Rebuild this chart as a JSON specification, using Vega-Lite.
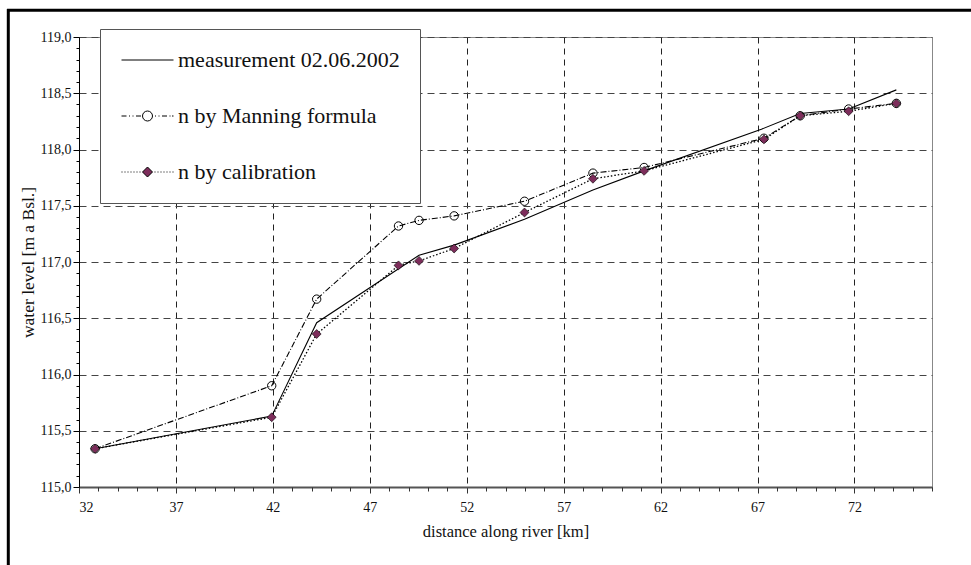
{
  "$schema": "https://vega.github.io/schema/vega-lite/v6.json",
  "width": 853,
  "height": 450,
  "autosize": {"type": "none"},
  "padding": {"left": 79, "top": 37, "right": 39, "bottom": 78},
  "background": "white",
  "config": {
    "font": "Liberation Serif",
    "view": {"stroke": "#888888", "strokeWidth": 1},
    "legend": {
      "title": null,
      "orient": "none",
      "legendX": 21,
      "legendY": -8,
      "padding": 20,
      "symbolSize": 400,
      "symbolOffset": 16.5,
      "symbolOpacity": 1,
      "symbolStrokeWidth": 1,
      "labelOffset": 19.5,
      "rowPadding": 34,
      "labelFont": "Liberation Serif",
      "labelFontSize": 22,
      "labelColor": "#111111",
      "labelLimit": 500,
      "strokeColor": "#555555",
      "fillColor": "white"
    }
  },
  "data": {
    "values": [
      {"series": "measurement 02.06.2002", "km": 32.83, "level": 115.34},
      {"series": "measurement 02.06.2002", "km": 41.94, "level": 115.63},
      {"series": "measurement 02.06.2002", "km": 44.26, "level": 116.46},
      {"series": "measurement 02.06.2002", "km": 49.54, "level": 117.06},
      {"series": "measurement 02.06.2002", "km": 51.35, "level": 117.15},
      {"series": "measurement 02.06.2002", "km": 54.98, "level": 117.38},
      {"series": "measurement 02.06.2002", "km": 58.51, "level": 117.64},
      {"series": "measurement 02.06.2002", "km": 61.15, "level": 117.81},
      {"series": "measurement 02.06.2002", "km": 67.2, "level": 118.18},
      {"series": "measurement 02.06.2002", "km": 69.2, "level": 118.32},
      {"series": "measurement 02.06.2002", "km": 71.7, "level": 118.36},
      {"series": "measurement 02.06.2002", "km": 74.16, "level": 118.53},
      {"series": "n by Manning formula", "km": 32.83, "level": 115.34},
      {"series": "n by Manning formula", "km": 41.94, "level": 115.9},
      {"series": "n by Manning formula", "km": 44.26, "level": 116.67},
      {"series": "n by Manning formula", "km": 48.48, "level": 117.32},
      {"series": "n by Manning formula", "km": 49.54, "level": 117.37},
      {"series": "n by Manning formula", "km": 51.35, "level": 117.41},
      {"series": "n by Manning formula", "km": 54.98, "level": 117.54},
      {"series": "n by Manning formula", "km": 58.51, "level": 117.79},
      {"series": "n by Manning formula", "km": 61.15, "level": 117.84},
      {"series": "n by Manning formula", "km": 67.33, "level": 118.1},
      {"series": "n by Manning formula", "km": 69.2, "level": 118.3},
      {"series": "n by Manning formula", "km": 71.7, "level": 118.36},
      {"series": "n by Manning formula", "km": 74.16, "level": 118.41},
      {"series": "n by calibration", "km": 32.83, "level": 115.34},
      {"series": "n by calibration", "km": 41.94, "level": 115.62},
      {"series": "n by calibration", "km": 44.26, "level": 116.36},
      {"series": "n by calibration", "km": 48.48, "level": 116.97},
      {"series": "n by calibration", "km": 49.54, "level": 117.01},
      {"series": "n by calibration", "km": 51.35, "level": 117.12},
      {"series": "n by calibration", "km": 54.98, "level": 117.44},
      {"series": "n by calibration", "km": 58.51, "level": 117.74},
      {"series": "n by calibration", "km": 61.15, "level": 117.81},
      {"series": "n by calibration", "km": 67.33, "level": 118.09},
      {"series": "n by calibration", "km": 69.2, "level": 118.3},
      {"series": "n by calibration", "km": 71.7, "level": 118.34},
      {"series": "n by calibration", "km": 74.16, "level": 118.41}
    ]
  },
  "resolve": {"axis": {"x": "independent", "y": "independent"}},
  "layer": [
    {
      "transform": [{"filter": "datum.series === 'measurement 02.06.2002'"}],
      "mark": {"type": "line", "color": "black", "strokeWidth": 1.1},
      "encoding": {
        "x": {
          "field": "km", "type": "quantitative",
          "scale": {"domain": [32, 76], "nice": false, "zero": false},
          "axis": {
            "orient": "bottom",
            "title": "distance along river [km]",
            "values": [32, 37, 42, 47, 52, 57, 62, 67, 72],
            "grid": true, "gridColor": "#222222", "gridDash": [6, 5], "gridWidth": 1,
            "domainColor": "#555555", "domainWidth": 2,
            "tickColor": "#333333", "tickSize": 6, "tickWidth": 1,
            "labelFont": "Liberation Serif", "labelFontSize": 14, "labelColor": "#111111", "labelPadding": 7,
            "titleFont": "Liberation Serif", "titleFontSize": 16.5, "titleFontWeight": "normal", "titleColor": "#111111", "titlePadding": 9
          }
        },
        "y": {
          "field": "level", "type": "quantitative",
          "scale": {"domain": [115, 119], "nice": false, "zero": false},
          "axis": {
            "orient": "left",
            "title": "water level [m a Bsl.]",
            "values": [115, 115.5, 116, 116.5, 117, 117.5, 118, 118.5, 119],
            "labelExpr": "replace(format(datum.value, '.1f'), '.', ',')",
            "grid": true, "gridColor": "#444444", "gridDash": [7, 5], "gridWidth": 1,
            "domainColor": "#000000", "domainWidth": 1,
            "tickColor": "#000000", "tickSize": 6, "tickWidth": 1,
            "labelFont": "Liberation Serif", "labelFontSize": 14, "labelColor": "#111111", "labelPadding": 2,
            "titleFont": "Liberation Serif", "titleFontSize": 17.5, "titleFontWeight": "normal", "titleColor": "#111111", "titlePadding": 3
          }
        }
      }
    },
    {
      "transform": [{"filter": "datum.series === 'n by Manning formula'"}],
      "mark": {"type": "line", "color": "black", "strokeWidth": 1.1, "strokeDash": [6, 2, 1, 2]},
      "encoding": {
        "x": {"field": "km", "type": "quantitative", "scale": {"domain": [32, 76], "nice": false, "zero": false}, "axis": null},
        "y": {"field": "level", "type": "quantitative", "scale": {"domain": [115, 119], "nice": false, "zero": false}, "axis": null}
      }
    },
    {
      "transform": [{"filter": "datum.series === 'n by calibration'"}],
      "mark": {"type": "line", "color": "black", "strokeWidth": 1.3, "strokeDash": [1.5, 2]},
      "encoding": {
        "x": {"field": "km", "type": "quantitative", "scale": {"domain": [32, 76], "nice": false, "zero": false}, "axis": null},
        "y": {"field": "level", "type": "quantitative", "scale": {"domain": [115, 119], "nice": false, "zero": false}, "axis": null}
      }
    },
    {
      "mark": {"type": "point", "filled": true, "strokeWidth": 1, "size": 0, "opacity": 1},
      "encoding": {
        "x": {"field": "km", "type": "quantitative", "scale": {"domain": [32, 76], "nice": false, "zero": false}, "axis": null},
        "y": {"field": "level", "type": "quantitative", "scale": {"domain": [115, 119], "nice": false, "zero": false}, "axis": null},
        "shape": {
          "field": "series", "type": "nominal",
          "scale": {
            "domain": ["measurement 02.06.2002", "n by Manning formula", "n by calibration"],
            "range": [
              "M-2.6,0H2.6",
              "M-2.6,0H-2.1M-1.85,0H-1.75M-1.5,0H-1.4M-1.15,0H-0.65M0.5,0A0.5,0.5,0,1,1,-0.5,0A0.5,0.5,0,1,1,0.5,0M0.75,0H0.85M1.1,0H1.2M1.45,0H1.95M2.2,0H2.3M2.45,0H2.6",
              "M-2.6,0H-2.5M-2.3,0H-2.2M-2,0H-1.9M-1.7,0H-1.6M-1.4,0H-1.3M-1.1,0H-1M-0.8,0H-0.7M0,-0.5L0.5,0L0,0.5L-0.5,0ZM0.7,0H0.8M1,0H1.1M1.3,0H1.4M1.6,0H1.7M1.9,0H2M2.2,0H2.3M2.5,0H2.6"
            ]
          }
        },
        "fill": {
          "field": "series", "type": "nominal",
          "scale": {
            "domain": ["measurement 02.06.2002", "n by Manning formula", "n by calibration"],
            "range": ["white", "white", "#7D2D5B"]
          }
        },
        "stroke": {
          "field": "series", "type": "nominal",
          "scale": {
            "domain": ["measurement 02.06.2002", "n by Manning formula", "n by calibration"],
            "range": ["black", "black", "black"]
          }
        }
      }
    },
    {
      "transform": [{"filter": "datum.series === 'n by Manning formula'"}],
      "mark": {"type": "point", "shape": "circle", "filled": false, "stroke": "black", "strokeWidth": 1, "size": 70, "opacity": 1},
      "encoding": {
        "x": {
          "field": "km", "type": "quantitative",
          "scale": {"domain": [32, 76], "nice": false, "zero": false},
          "axis": {
            "orient": "bottom", "title": null, "labels": false, "grid": false, "domain": false,
            "values": [33, 34, 35, 36, 38, 39, 40, 41, 43, 44, 45, 46, 48, 49, 50, 51, 53, 54, 55, 56, 58, 59, 60, 61, 63, 64, 65, 66, 68, 69, 70, 71, 73, 74, 75, 76],
            "tickColor": "#333333", "tickSize": 4, "tickWidth": 1
          }
        },
        "y": {
          "field": "level", "type": "quantitative",
          "scale": {"domain": [115, 119], "nice": false, "zero": false},
          "axis": {
            "orient": "left", "title": null, "labels": false, "grid": false, "domain": false,
            "values": [115.1, 115.2, 115.3, 115.4, 115.6, 115.7, 115.8, 115.9, 116.1, 116.2, 116.3, 116.4, 116.6, 116.7, 116.8, 116.9, 117.1, 117.2, 117.3, 117.4, 117.6, 117.7, 117.8, 117.9, 118.1, 118.2, 118.3, 118.4, 118.6, 118.7, 118.8, 118.9],
            "tickColor": "#000000", "tickSize": 3, "tickWidth": 1
          }
        }
      }
    },
    {
      "transform": [{"filter": "datum.series === 'n by calibration'"}],
      "mark": {"type": "point", "shape": "diamond", "filled": true, "fill": "#7D2D5B", "stroke": "black", "strokeWidth": 0.6, "size": 80, "opacity": 1},
      "encoding": {
        "x": {"field": "km", "type": "quantitative", "scale": {"domain": [32, 76], "nice": false, "zero": false}, "axis": null},
        "y": {"field": "level", "type": "quantitative", "scale": {"domain": [115, 119], "nice": false, "zero": false}, "axis": null}
      }
    },
    {
      "data": {"values": [{}]},
      "mark": {"type": "rule", "color": "black", "strokeWidth": 3},
      "encoding": {
        "x": {"datum": 28.29, "type": "quantitative", "scale": {"domain": [32, 76], "nice": false, "zero": false}, "axis": null},
        "x2": {"datum": 78.1},
        "y": {"datum": 119.237, "type": "quantitative", "scale": {"domain": [115, 119], "nice": false, "zero": false}, "axis": null}
      }
    },
    {
      "data": {"values": [{}]},
      "mark": {"type": "rule", "color": "black", "strokeWidth": 3},
      "encoding": {
        "x": {"datum": 28.353, "type": "quantitative", "scale": {"domain": [32, 76], "nice": false, "zero": false}, "axis": null},
        "y": {"datum": 119.25, "type": "quantitative", "scale": {"domain": [115, 119], "nice": false, "zero": false}, "axis": null},
        "y2": {"datum": 114.2}
      }
    }
  ]
}
